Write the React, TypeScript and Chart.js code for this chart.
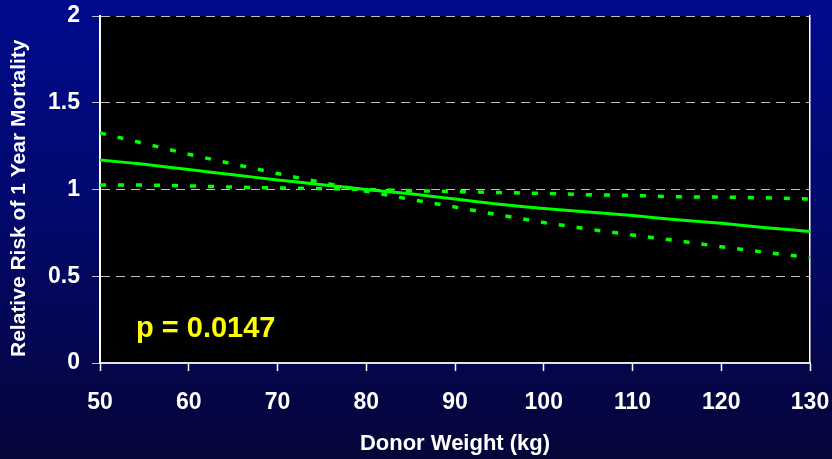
import React, { useEffect, useRef } from 'react';
import { Chart, registerables } from 'chart.js';

Chart.register(...registerables);

// Donor weight (kg)
const weights = [50, 55, 60, 65, 70, 75, 80, 85, 90, 95, 100, 105, 110, 115, 120, 125, 130];
// Relative risk estimate (solid line)
const riskEstimate = [1.17, 1.145, 1.115, 1.085, 1.055, 1.028, 1.0, 0.975, 0.945, 0.915, 0.89, 0.87, 0.85, 0.825, 0.805, 0.78, 0.758];
// Confidence bound that falls steeply (dotted)
const boundSteep = [1.326, 1.265, 1.203, 1.147, 1.092, 1.04, 0.99, 0.943, 0.899, 0.853, 0.81, 0.772, 0.738, 0.705, 0.67, 0.637, 0.608];
// Confidence bound that stays nearly flat (dotted)
const boundFlat = [1.026, 1.026, 1.021, 1.014, 1.009, 1.005, 1.0, 0.993, 0.988, 0.982, 0.978, 0.97, 0.966, 0.958, 0.956, 0.952, 0.945];

const xTitle = 'Donor Weight (kg)';
const yTitle = 'Relative Risk of 1 Year Mortality   ';
const pLabel = 'p = 0.0147';

const FONT = '"Liberation Sans", Arial, Helvetica, sans-serif';
const GREEN = '#00ff00';

const backgroundPlugin = {
  id: 'bgPlugin',
  beforeDraw(chart: any) {
    const { ctx, width, height, chartArea } = chart;
    ctx.save();
    const g = ctx.createLinearGradient(0, 0, 0, height);
    g.addColorStop(0, '#000b8e');
    g.addColorStop(0.5, '#020868');
    g.addColorStop(1, '#050538');
    ctx.fillStyle = g;
    ctx.fillRect(0, 0, width, height);
    ctx.fillStyle = '#000000';
    ctx.fillRect(chartArea.left, chartArea.top, chartArea.right - chartArea.left, chartArea.bottom - chartArea.top);
    ctx.restore();
  },
};

const fitVertical = (w: number) => (s: any) => {
  s.width = w;
  s.paddingTop = 0;
  s.paddingBottom = 0;
};

export default function App() {
  const canvasRef = useRef<HTMLCanvasElement | null>(null);

  useEffect(() => {
    document.body.style.margin = '0';
    const canvas = canvasRef.current;
    if (!canvas) return;
    const toPts = (arr: number[]) => weights.map((w, i) => ({ x: w, y: arr[i] }));
    const chart = new Chart(canvas, {
      type: 'line',
      data: {
        datasets: [
          {
            data: toPts(boundSteep),
            borderColor: GREEN,
            borderWidth: 3.5,
            borderDash: [6, 12],
            pointRadius: 0,
            fill: false,
            tension: 0,
          },
          {
            data: toPts(boundFlat),
            borderColor: GREEN,
            borderWidth: 3.5,
            borderDash: [6, 12],
            pointRadius: 0,
            fill: false,
            tension: 0,
          },
          {
            data: toPts(riskEstimate),
            borderColor: GREEN,
            borderWidth: 3,
            pointRadius: 0,
            fill: false,
            tension: 0.3,
          },
        ],
      },
      options: {
        responsive: false,
        animation: false,
        devicePixelRatio: 1,
        layout: { padding: { top: 16, left: 0, right: 0, bottom: 0 } },
        plugins: {
          legend: { display: false },
          tooltip: { enabled: false },
        },
        scales: {
          x: {
            type: 'linear',
            min: 50,
            max: 130,
            ticks: {
              stepSize: 10,
              color: '#ffffff',
              font: { family: FONT, size: 23, weight: 'bold' },
              padding: 18,
              maxRotation: 0,
            },
            grid: {
              drawOnChartArea: false,
              drawTicks: true,
              tickLength: 8,
              tickColor: '#ffffff',
              tickWidth: 1.5,
            },
            border: { color: '#e0e0e0', width: 2 },
            title: {
              display: true,
              text: xTitle,
              color: '#ffffff',
              font: { family: FONT, size: 22, weight: 'bold' },
              padding: { top: 0, bottom: 2 },
            },
            afterFit: (s: any) => {
              s.height = 96;
              s.paddingLeft = 0;
              s.paddingRight = 0;
            },
          },
          y: {
            min: 0,
            max: 2,
            ticks: {
              stepSize: 0.5,
              color: '#ffffff',
              font: { family: FONT, size: 23, weight: 'bold' },
              padding: 12,
              callback: (v: any) => String(Number(v)),
            },
            grid: {
              color: '#c0c0c0',
              lineWidth: 1,
              tickLength: 8,
              tickColor: '#c0c0c0',
              tickBorderDash: [9, 6],
            },
            border: { color: '#ffffff', width: 2, dash: [9, 6] },
            title: {
              display: true,
              text: yTitle,
              color: '#ffffff',
              font: { family: FONT, size: 21, weight: 'bold' },
              padding: { top: 7, bottom: 0 },
            },
            afterFit: fitVertical(100),
          },
          y2: {
            position: 'right',
            min: 0,
            max: 2,
            ticks: { display: false },
            grid: { drawOnChartArea: false, drawTicks: false },
            border: { color: '#ffffff', width: 1.5 },
            afterFit: fitVertical(22),
          },
        },
      },
      plugins: [backgroundPlugin],
    } as any);
    return () => chart.destroy();
  }, []);

  return (
    <div style={{ position: 'relative', width: 832, height: 459 }}>
      <canvas ref={canvasRef} width={832} height={459} style={{ display: 'block' }} />
      <div
        style={{
          position: 'absolute',
          left: 136,
          top: 313,
          color: '#ffff00',
          fontFamily: FONT,
          fontWeight: 'bold',
          fontSize: 29,
          lineHeight: '29px',
          whiteSpace: 'nowrap',
        }}
      >
        {pLabel}
      </div>
    </div>
  );
}
